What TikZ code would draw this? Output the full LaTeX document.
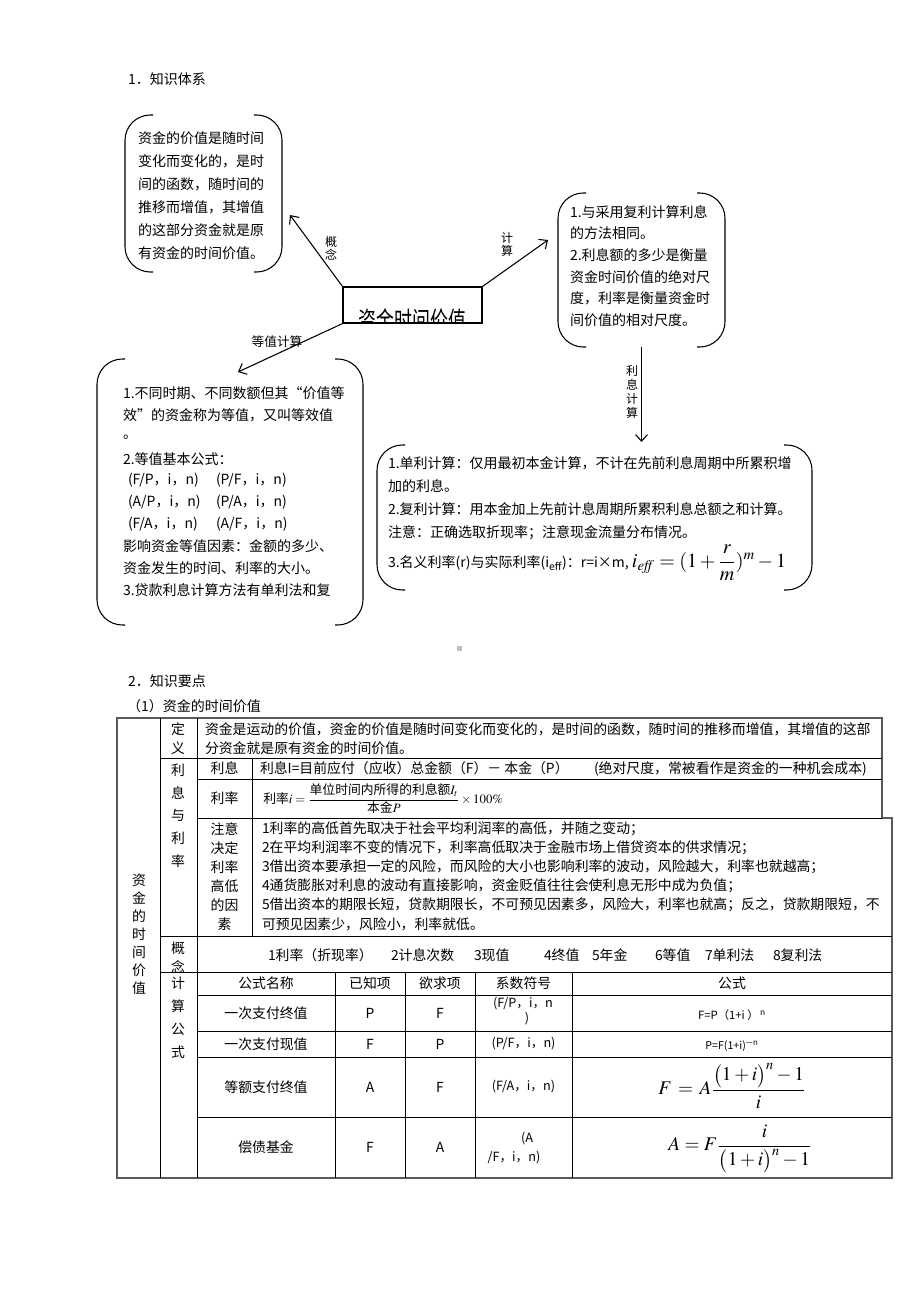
\documentclass[tikz,border=0pt]{standalone}
\usepackage{amsmath}
\usepackage{mathptmx}
\usepackage{graphicx}
\usepackage{fontspec}
\setmainfont{Noto Sans CJK SC}
\usetikzlibrary{arrows.meta,calc}
\tikzset{
  T/.style={font=\fontsize{10.5}{14}\selectfont, inner sep=0pt, outer sep=0pt},
  TT/.style={font=\fontsize{10.4}{14}\selectfont, inner sep=0pt, outer sep=0pt},
  lab/.style={font=\fontsize{9}{9.75}\selectfont, inner sep=0pt, outer sep=0pt, align=center},
  brk/.style={draw=black, line width=0.8pt, rounded corners=19pt},
  arr/.style={draw=black, line width=0.8pt, -{Straight Barb[length=5pt,width=9pt]}},
  boxph/.style={draw=none, inner sep=0pt, outer sep=0pt},
  gridline/.style={draw=black, line width=0.6pt},
  outerline/.style={draw=black!65, line width=1.1pt},
  vc/.style={align=center, inner sep=0pt, outer sep=0pt},
}
\newcommand{\bracketshape}[1]{%
  \draw[brk] ($(#1.north west)+(28,0)$) -- (#1.north west) -- (#1.south west) -- ($(#1.south west)+(28,0)$);
  \draw[brk] ($(#1.north east)+(-28,0)$) -- (#1.north east) -- (#1.south east) -- ($(#1.south east)+(-28,0)$);}
\begin{document}
\begin{tikzpicture}[x=0.75pt,y=-0.75pt]
\useasboundingbox (0,0) rectangle (920,1302);
\fill[white] (0,0) rectangle (920,1302);

% ---------------- Part 1 ----------------
\node[T, anchor=west] (h1) at (128,79) {1．知识体系};

% boxes (placeholders) and their bracket outlines
\node[boxph, minimum width=117.75pt, minimum height=117.75pt] (tlbox) at (203.5,193.5) {};
\node[boxph, minimum width=125.25pt, minimum height=115.5pt] (trbox) at (641.5,270) {};
\node[boxph, minimum width=199.5pt, minimum height=199.5pt] (lbbox) at (230,492) {};
\node[boxph, minimum width=326.25pt, minimum height=108.75pt] (rbbox) at (594.5,517.5) {};
\bracketshape{tlbox}
\bracketshape{trbox}
\bracketshape{lbbox}
\bracketshape{rbbox}

% top-left box text
\foreach \mytext [count=\i] in {资金的价值是随时间, 变化而变化的，是时, 间的函数，随时间的, 推移而增值，其增值, 的这部分资金就是原, 有资金的时间价值。}
  {\node[T, anchor=west] (tl\i) at (138,{138+23.1*(\i-1)}) {\mytext};}

% top-right box text
\foreach \mytext [count=\i] in {1.与采用复利计算利息, 的方法相同。, 2.利息额的多少是衡量, 资金时间价值的绝对尺, 度，利率是衡量资金时, 间价值的相对尺度。}
  {\node[T, anchor=west] (tr\i) at (570,{212+21.6*(\i-1)}) {\mytext};}

% left-bottom box text
\foreach \mytext [count=\i] in {1.不同时期、不同数额但其“价值等, 效”的资金称为等值，又叫等效值, 。, 2.等值基本公式：}
  {\node[T, anchor=west] (lb\i) at (123,{393+21.9*(\i-1)}) {\mytext};}
\node[T, anchor=west] (lb5a) at (128,480) {(F/P，i，n)};
\node[T, anchor=west] (lb5b) at (216,480) {(P/F，i，n)};
\node[T, anchor=west] (lb6a) at (128,502) {(A/P，i，n)};
\node[T, anchor=west] (lb6b) at (216,502) {(P/A，i，n)};
\node[T, anchor=west] (lb7a) at (128,524) {(F/A，i，n)};
\node[T, anchor=west] (lb7b) at (216,524) {(A/F，i，n)};
\node[T, anchor=west] (lb8) at (123,546) {影响资金等值因素：金额的多少、};
\node[T, anchor=west] (lb9) at (123,568) {资金发生的时间、利率的大小。};
\node[T, anchor=west] (lb10) at (123,590) {3.贷款利息计算方法有单利法和复};

% right-bottom box text
\foreach \mytext [count=\i] in {1.单利计算：仅用最初本金计算，不计在先前利息周期中所累积增, 加的利息。, 2.复利计算：用本金加上先前计息周期所累积利息总额之和计算。, 注意：正确选取折现率；注意现金流量分布情况。}
  {\node[T, anchor=west] (rb\i) at (388,{463+23.3*(\i-1)}) {\mytext};}
\node[T, anchor=base west] (rb5) at (388,567) {3.名义利率(r)与实际利率(i\textsubscript{eff})：r=i×m, {\fontsize{15}{16}\selectfont$i_{\mathit{eff}}=(1+\dfrac{r}{m})^{m}-1$}};

% central box with clipped title
\node[draw=black, line width=0.9pt, minimum width=104.25pt, minimum height=27pt, inner sep=0pt] (cb) at (412.5,305) {};
\begin{scope}
  \clip (cb.south west) rectangle (cb.north east);
  \node[inner sep=0pt, anchor=base, font=\fontsize{13.4}{16}\selectfont] (cbtext) at (412.5,331) {\scalebox{1}[1.5]{资金时间价值}};
\end{scope}

% arrows
\coordinate (a1) at (290,215);
\coordinate (a2) at (548,240);
\coordinate (a3) at (238,372);
\coordinate (a4) at (641.5,442);
\draw[arr] (cb.north west) -- (a1);
\draw[arr] (cb.north east) -- (a2);
\draw[arr] (cb.south west) -- (a3);
\draw[arr] (trbox.south) -- (a4);

% arrow labels
\node[lab] (l1) at (331,248.5) {概\\念};
\node[lab] (l2) at (507,244) {计\\算};
\node[lab, font=\fontsize{9.5}{10}\selectfont] (l3) at (277,342) {等值计算};
\node[lab, font=\fontsize{9}{10.5}\selectfont] (l4) at (632,391.5) {利\\息\\计\\算};

% small grey mark
\fill[black!25] (457,646) rectangle (462,651);

% ---------------- Part 2 ----------------
\node[T, anchor=west] (h2) at (128,681) {2．知识要点};
\node[T, anchor=west] (h3) at (127,706) {（1）资金的时间价值};

% table rules
\draw[outerline] (117,718) -- (882,718) -- (882,818) -- (892,818) -- (892,1178) -- (117,1178) -- cycle;
\draw[gridline] (160,718) -- (160,1178);
\draw[gridline] (197,718) -- (197,1178);
\draw[gridline] (160,758) -- (882,758);
\draw[gridline] (252,758) -- (252,936);
\draw[gridline] (197,779) -- (882,779);
\draw[gridline] (197,818) -- (882,818);
\draw[gridline] (160,936) -- (892,936);
\draw[gridline] (160,972) -- (892,972);
\foreach \xx in {335,405,475,572} {\draw[gridline] (\xx,972) -- (\xx,1178);}
\foreach \yy in {995,1031,1057,1117} {\draw[gridline] (197,\yy) -- (892,\yy);}

% row / column labels
\node[vc, font=\fontsize{10.4}{13.5}\selectfont] (c0) at (139,934) {资\\金\\的\\时\\间\\价\\值};
\node[vc, font=\fontsize{10.4}{14.25}\selectfont] (c1) at (178,738.5) {定\\义};
\node[vc, font=\fontsize{10.4}{17}\selectfont] (c2) at (178,815.5) {利\\息\\与\\利\\率};
\node[vc, font=\fontsize{10.4}{14.25}\selectfont] (c3) at (178,957.5) {概\\念};
\node[vc, font=\fontsize{10.4}{17.25}\selectfont] (c4) at (178,1017.5) {计\\算\\公\\式};
\node[TT] (c5) at (224.5,768.5) {利息};
\node[TT] (c6) at (224.5,798.5) {利率};
\node[vc, font=\fontsize{10.4}{14.25}\selectfont] (c7) at (224.5,876.5) {注意\\决定\\利率\\高低\\的因\\素};

% definition row
\node[TT, anchor=west] (df1) at (205,729) {资金是运动的价值，资金的价值是随时间变化而变化的，是时间的函数，随时间的推移而增值，其增值的这部};
\node[TT, anchor=west] (df2) at (205,748) {分资金就是原有资金的时间价值。};

% interest row
\node[TT, anchor=west] (lx1) at (260,768.5) {利息I=目前应付（应收）总金额（F）－ 本金（P）};
\node[TT, anchor=west] (lx2) at (594,768.5) {(绝对尺度，常被看作是资金的一种机会成本)};

% rate row
\node[inner sep=0pt, anchor=west, font=\fontsize{9.6}{10}\selectfont] (lr) at (263,798.5) {利率$i=\dfrac{\mbox{单位时间内所得的利息额}I_t}{\mbox{本金}P}\times100\%$};

% factors
\foreach \mytext [count=\i] in {1利率的高低首先取决于社会平均利润率的高低，并随之变动；, 2在平均利润率不变的情况下，利率高低取决于金融市场上借贷资本的供求情况；, 3借出资本要承担一定的风险，而风险的大小也影响利率的波动，风险越大，利率也就越高；, 4通货膨胀对利息的波动有直接影响，资金贬值往往会使利息无形中成为负值；, 5借出资本的期限长短，贷款期限长，不可预见因素多，风险大，利率也就高；反之，贷款期限短，不, 可预见因素少，风险小，利率就低。}
  {\node[TT, anchor=west] (zy\i) at (262,{829+19*(\i-1)}) {\mytext};}

% concepts
\foreach \xx/\mytext [count=\i] in {268/1利率（折现率）, 391/2计息次数, 474/3现值, 544/4终值, 592/5年金, 655/6等值, 705/7单利法, 773/8复利法}
  {\node[TT, anchor=west] (gn\i) at (\xx,955) {\mytext};}

% formula table header
\node[TT] (fh1) at (266,983.5) {公式名称};
\node[TT] (fh2) at (370,983.5) {已知项};
\node[TT] (fh3) at (440,983.5) {欲求项};
\node[TT] (fh4) at (523.5,983.5) {系数符号};
\node[TT] (fh5) at (732,983.5) {公式};

% formula rows
\node[TT] (r1a) at (266,1013) {一次支付终值};
\node[TT] (r1b) at (370,1013) {P};
\node[TT] (r1c) at (440,1013) {F};
\node[TT, font=\fontsize{9.5}{11}\selectfont] (r1d) at (523,1004) {(F/P，i，n};
\node[TT, font=\fontsize{9.5}{11}\selectfont] (r1e) at (527,1019) {)};
\node[inner sep=0pt, font=\fontsize{8.5}{10}\selectfont] (r1f) at (732,1015) {F=P（1+i ）\textsuperscript{\,n}};

\node[TT] (r2a) at (266,1044) {一次支付现值};
\node[TT] (r2b) at (370,1044) {F};
\node[TT] (r2c) at (440,1044) {P};
\node[TT, font=\fontsize{9.5}{11}\selectfont] (r2d) at (523.5,1044) {(P/F，i，n)};
\node[inner sep=0pt, font=\fontsize{8}{9}\selectfont] (r2f) at (732,1046) {P=F(1+i)\textsuperscript{—n}};

\node[TT] (r3a) at (266,1087) {等额支付终值};
\node[TT] (r3b) at (370,1087) {A};
\node[TT] (r3c) at (440,1087) {F};
\node[TT, font=\fontsize{9.5}{11}\selectfont] (r3d) at (523.5,1087) {(F/A，i，n)};
\node[inner sep=0pt, font=\fontsize{14.5}{16}\selectfont] (r3f) at (732,1086) {$F\,=\,A\dfrac{\bigl(1+i\bigr)^{n}-1}{i}$};

\node[TT] (r4a) at (266,1147) {偿债基金};
\node[TT] (r4b) at (370,1147) {F};
\node[TT] (r4c) at (440,1147) {A};
\node[TT, font=\fontsize{9.5}{11}\selectfont] (r4d) at (527,1139) {(A};
\node[TT, font=\fontsize{9.5}{11}\selectfont] (r4e) at (514,1158) {/F，i，n)};
\node[inner sep=0pt, font=\fontsize{14.5}{16}\selectfont] (r4f) at (740,1149) {$A=F\dfrac{i}{\bigl(1+i\bigr)^{n}-1}$};

\end{tikzpicture}
\end{document}
